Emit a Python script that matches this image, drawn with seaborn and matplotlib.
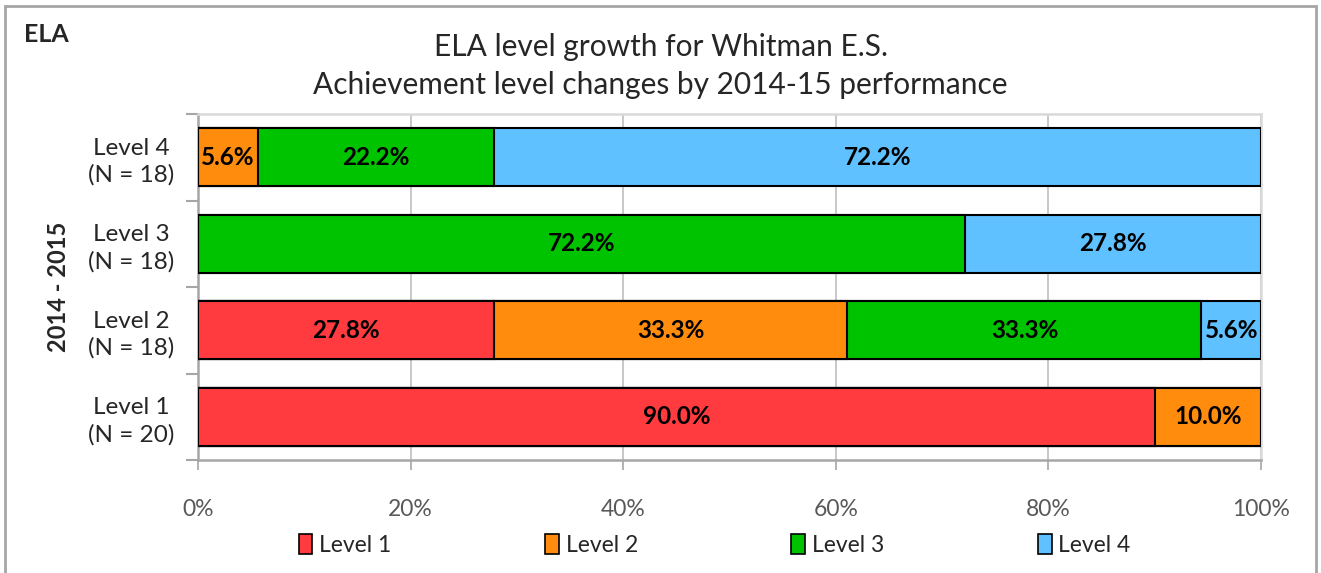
import numpy as np
import pandas as pd
import matplotlib
matplotlib.use("Agg")
import matplotlib.pyplot as plt
import seaborn as sb
from matplotlib.patches import Rectangle, Patch

# Data (percent of students by 2015-16 level, per 2014-15 level)
groups = ["Level 4\n(N = 18)", "Level 3\n(N = 18)", "Level 2\n(N = 18)", "Level 1\n(N = 20)"]
levels = ["Level 1", "Level 2", "Level 3", "Level 4"]
level_1 = [0.0, 0.0, 27.8, 90.0]
level_2 = [5.6, 0.0, 33.3, 10.0]
level_3 = [22.2, 72.2, 33.3, 0.0]
level_4 = [72.2, 27.8, 5.6, 0.0]
colors = ["#FF3B3F", "#FF8C0C", "#00C300", "#5FC1FF"]

sb.set_style("white")
plt.rcParams["font.family"] = ["Lato", "DejaVu Sans"]

df = pd.DataFrame({"group": groups, "Level 1": level_1, "Level 2": level_2,
                   "Level 3": level_3, "Level 4": level_4})
cum = df[levels].cumsum(axis=1)

fig = plt.figure(figsize=(13.21, 5.73), dpi=100)
ax = fig.add_axes([198 / 1321, 113 / 573, 1063 / 1321, 346 / 573])

# draw cumulative bars from the longest to the shortest so they stack
for i in range(3, -1, -1):
    sb.barplot(x=cum[levels[i]], y=df["group"], order=groups, orient="h",
               color=colors[i], saturation=1, width=0.67, edgecolor="black",
               linewidth=1.5, ax=ax, zorder=3)

# segment labels
for r, g in enumerate(groups):
    left = 0
    for i, lv in enumerate(levels):
        v = df.loc[r, lv]
        if v > 0:
            ax.text(left + v / 2, r, f"{v:.1f}%", ha="center", va="center",
                    fontsize=17.5, fontweight="bold", color="black", zorder=5)
        left += v

ax.set_xlim(0, 100)
ax.set_ylim(3.5, -0.5)
ax.set_xticks(np.arange(0, 101, 20))
ax.set_xticklabels([f"{t}%" for t in range(0, 101, 20)], fontsize=16.5, color="#595959")
ax.xaxis.grid(True, color="#BFBFBF", linewidth=1.2, zorder=0)
ax.set_axisbelow(True)

# category labels between boundary ticks
ax.set_yticks(np.arange(-0.5, 4, 1))
ax.set_yticklabels([])
ax.set_yticks(np.arange(4), minor=True)
ax.set_yticklabels(groups, minor=True, fontsize=17.5, ha="center", linespacing=1.3)
ax.tick_params(axis="y", which="minor", length=0, pad=48)
ax.tick_params(axis="y", which="major", length=9, width=1.5, color="#A6A6A6", direction="out", left=True)
ax.tick_params(axis="x", length=7, width=1.2, color="#A6A6A6", direction="out", bottom=True, pad=21)

ax.set_xlabel("")
ax.set_ylabel("2014 - 2015", fontsize=17, fontweight="bold")
ax.yaxis.set_label_coords(-128 / 1063, 0.5)

for s in ["left", "bottom"]:
    ax.spines[s].set_color("#A6A6A6")
    ax.spines[s].set_linewidth(1.8)
for s in ["top", "right"]:
    ax.spines[s].set_color("#D9D9D9")
    ax.spines[s].set_linewidth(1.8)

fig.text(0.5, 1 - 47 / 573, "ELA level growth for Whitman E.S.", ha="center", va="center", fontsize=21.5)
fig.text(0.5, 1 - 85 / 573, "Achievement level changes by 2014-15 performance", ha="center", va="center", fontsize=21.5)
fig.text(24 / 1321, 1 - 35 / 573, "ELA", ha="left", va="center", fontsize=18, fontweight="bold")

handles = [Patch(facecolor=c, edgecolor="black", linewidth=1.2, label=l) for c, l in zip(colors, levels)]
fig.legend(handles=handles, loc="center", bbox_to_anchor=(0.541, 1 - 545 / 573), ncol=4,
           frameon=False, fontsize=16.5, handlelength=0.6, handleheight=1.0, handletextpad=0.3,
           columnspacing=6.7)

fig.patches.append(Rectangle((5 / 1321, -0.05), 1311 / 1321, 1.04,
                             transform=fig.transFigure, fill=False, edgecolor="#A6A6A6", linewidth=2))

fig.savefig("out.png", dpi=100)
